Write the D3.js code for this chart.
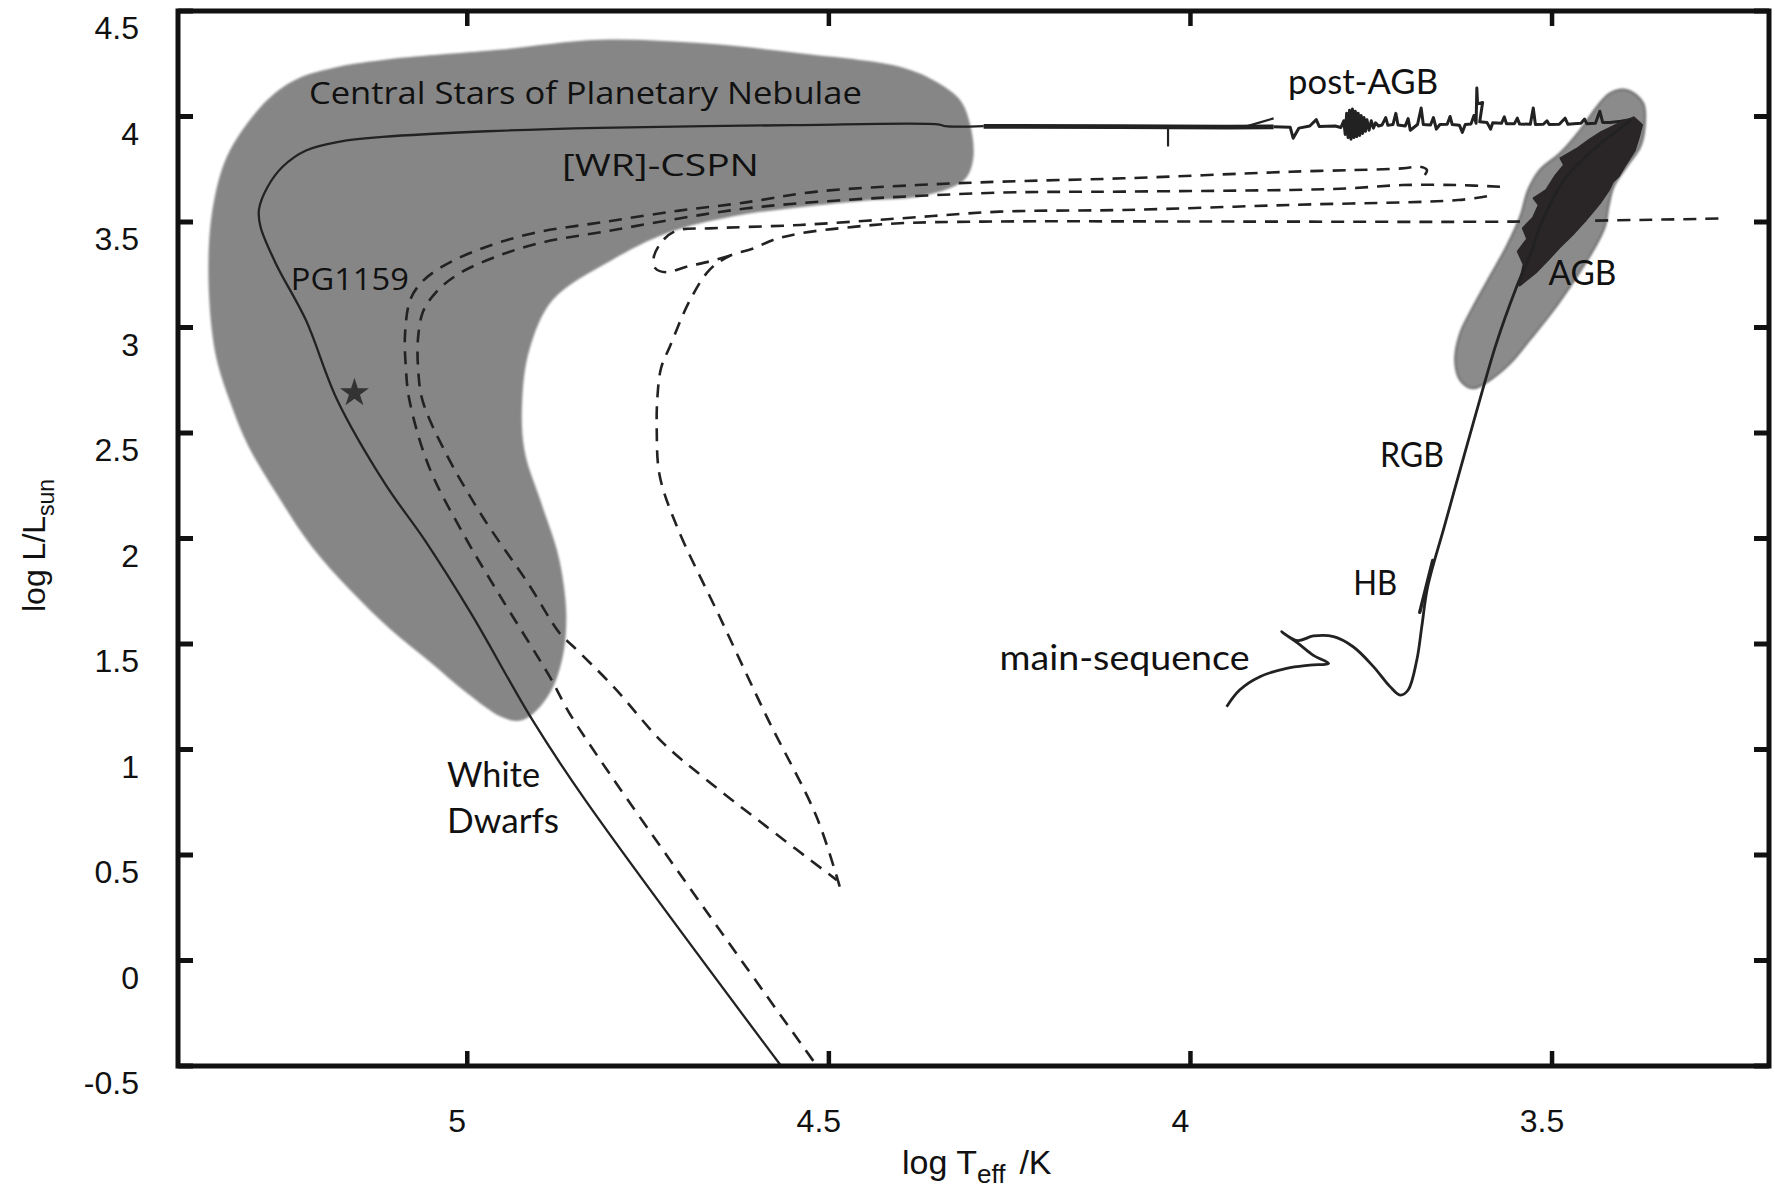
<!DOCTYPE html>
<html>
<head>
<meta charset="utf-8">
<script src="https://cdn.jsdelivr.net/npm/d3@7"></script>
<style>
  body { margin: 0; background: #fff; }
  svg { display: block; }
</style>
</head>
<body>
<svg id="chart" width="1775" height="1189"></svg>
<script>
// Hertzsprung-Russell diagram: log Teff against log L/Lsun for a low-mass star,
// with the central-star-of-planetary-nebula region and born-again tracks.

const xTicks = [5, 4.5, 4, 3.5];
const xTickLabels = ["5", "4.5", "4", "3.5"];
const yTicks = [4.5, 4, 3.5, 3, 2.5, 2, 1.5, 1, 0.5, 0, -0.5];
const yTickLabels = ["4.5", "4", "3.5", "3", "2.5", "2", "1.5", "1", "0.5", "0", "-0.5"];

// Outline of the CSPN region [logT, logL]
const cspnRegion = [
  [5.276,4.080],[5.236,4.177],[5.186,4.230],[5.117,4.268],[4.958,4.316],[4.817,4.364],
  [4.679,4.348],[4.540,4.300],[4.402,4.236],[4.356,4.173],[4.319,4.080],[4.305,3.967],
  [4.300,3.812],[4.309,3.715],[4.328,3.667],[4.378,3.619],[4.447,3.602],[4.539,3.570],
  [4.632,3.527],[4.724,3.447],[4.801,3.318],[4.882,3.130],[4.914,2.894],[4.924,2.658],
  [4.921,2.420],[4.899,2.182],[4.876,1.945],[4.867,1.789],[4.863,1.628],[4.867,1.457],
  [4.881,1.298],[4.899,1.204],[4.918,1.148],[4.932,1.135],[4.954,1.156],[5.001,1.269],
  [5.051,1.414],[5.106,1.569],[5.161,1.752],[5.216,1.966],[5.263,2.208],[5.302,2.433],
  [5.328,2.648],[5.349,2.889],[5.358,3.288],[5.350,3.604],[5.328,3.841]
];

// Outline of the AGB region
const agbRegion = [
  [3.397,4.126],[3.374,4.063],[3.372,3.952],[3.378,3.857],[3.397,3.762],[3.415,3.667],
  [3.422,3.573],[3.427,3.478],[3.443,3.367],[3.466,3.241],[3.498,3.083],[3.531,2.941],
  [3.558,2.830],[3.586,2.751],[3.609,2.712],[3.627,2.751],[3.634,2.846],[3.627,2.973],
  [3.609,3.099],[3.586,3.241],[3.563,3.383],[3.544,3.525],[3.533,3.652],[3.517,3.746],
  [3.489,3.826],[3.461,3.936],[3.438,4.046],[3.420,4.110]
];

// Dense thermal-pulse band on the AGB (outline)
const agbPulses = [
  [3.545,3.200],[3.539,3.300],[3.547,3.360],[3.534,3.420],[3.540,3.470],[3.526,3.520],
  [3.518,3.580],[3.525,3.612],[3.508,3.650],[3.496,3.715],[3.483,3.770],[3.488,3.802],
  [3.466,3.845],[3.448,3.890],[3.432,3.925],[3.410,3.962],[3.387,3.995],
  [3.376,3.960],[3.380,3.905],[3.386,3.840],[3.398,3.775],[3.408,3.718],[3.416,3.692],
  [3.422,3.650],[3.434,3.590],[3.446,3.540],[3.456,3.500],[3.472,3.440],[3.490,3.380],
  [3.506,3.320],[3.523,3.260]
];

// Main sequence -> RGB -> AGB tip
const rgbTrack = [
  [3.950,1.203],[3.932,1.282],[3.904,1.345],[3.867,1.385],[3.835,1.400],[3.809,1.408],
  [3.830,1.446],[3.852,1.505],[3.874,1.558],[3.852,1.516],[3.830,1.538],[3.802,1.535],
  [3.775,1.487],[3.747,1.393],[3.724,1.298],[3.710,1.258],[3.699,1.282],[3.687,1.424],
  [3.680,1.585],[3.672,1.771],[3.649,2.056],[3.622,2.388],[3.600,2.656],[3.577,2.925],
  [3.549,3.193],[3.526,3.383],[3.517,3.477],[3.480,3.715],[3.438,3.857],[3.397,3.967],
  [3.391,3.983]
];

// Horizontal branch
const hbTrack = [[3.683,1.650],[3.665,1.896]];

// Post-AGB crossing with its pulse noise (from the hot side to the AGB tip)
const postAgbTrack = [
  [3.885,3.951],[3.862,3.949],[3.858,3.897],[3.850,3.945],[3.835,3.955],[3.826,3.985],
  [3.822,3.953],[3.800,3.955],[3.792,3.948],
  [3.788,3.980],[3.786,3.915],[3.784,4.015],[3.782,3.900],[3.780,4.030],[3.778,3.892],
  [3.776,4.035],[3.774,3.900],[3.772,4.025],[3.770,3.905],[3.768,4.015],[3.766,3.910],
  [3.764,4.005],[3.762,3.920],[3.760,3.995],[3.758,3.930],[3.756,3.985],[3.753,3.935],
  [3.750,3.980],[3.747,3.945],[3.744,3.970],[3.740,3.955],
  [3.735,3.960],[3.730,3.995],[3.727,3.958],[3.720,3.962],[3.716,4.015],[3.713,3.960],
  [3.703,3.955],[3.699,3.990],[3.696,3.935],[3.686,3.962],[3.681,4.040],[3.678,3.962],
  [3.668,3.960],[3.664,3.995],[3.660,3.940],[3.655,3.962],[3.645,3.963],[3.641,4.000],
  [3.638,3.962],[3.628,3.958],[3.624,3.925],[3.620,3.962],[3.612,3.965],[3.608,4.005],
  [3.605,3.968],[3.604,4.135],[3.603,4.060],[3.596,4.066],[3.600,3.975],[3.590,3.972],
  [3.585,3.940],[3.582,3.970],[3.570,3.968],[3.566,3.998],[3.563,3.966],[3.552,3.966],
  [3.548,3.992],[3.545,3.965],[3.530,3.963],[3.526,4.040],[3.523,3.962],[3.512,3.963],
  [3.507,3.980],[3.504,3.962],[3.490,3.963],[3.482,3.992],[3.478,3.963],[3.470,3.966],
  [3.460,3.968],[3.455,3.988],[3.452,3.966],[3.440,3.968],[3.434,4.025],[3.430,3.972],
  [3.420,3.972],[3.405,3.978],[3.392,3.985]
];

// Thick part of the post-AGB line and the small marks beside it
const postAgbThick = [[4.286,3.953],[4.100,3.952],[3.950,3.950],[3.885,3.951]];
const postAgbSpur = [[3.925,3.951],[3.885,3.991]];
const postAgbDip = [[4.031,3.955],[4.031,3.858]];

// CSPN -> white dwarf cooling track
const coolingTrack = [
  [4.566,-0.500],[4.837,0.761],[4.910,1.140],[4.995,1.646],[5.059,1.993],[5.114,2.261],
  [5.180,2.658],[5.223,3.034],[5.265,3.305],[5.286,3.479],[5.288,3.560],[5.276,3.667],
  [5.255,3.763],[5.223,3.839],[5.176,3.881],[5.117,3.903],[4.973,3.930],[4.817,3.946],
  [4.550,3.959],[4.347,3.962],[4.339,3.954],[4.286,3.954]
];

// Dashed tracks
const dashedTrackA = [
  [3.676,3.723],[3.673,3.746],[3.683,3.762],[3.707,3.754],[3.862,3.738],[4.093,3.707],
  [4.264,3.691],[4.378,3.675],[4.517,3.644],[4.623,3.589],[4.707,3.554],[4.809,3.501],
  [4.909,3.447],[4.982,3.372],[5.036,3.286],[5.064,3.211],[5.079,3.130],[5.086,2.972],
  [5.085,2.814],[5.080,2.656],[5.053,2.340],[5.006,2.025],[4.957,1.741],[4.886,1.345],
  [4.853,1.140],[4.516,-0.502]
];
const dashedTrackB = [
  [3.572,3.667],[3.630,3.675],[3.707,3.675],[3.784,3.659],[3.862,3.652],[4.093,3.644],
  [4.264,3.639],[4.488,3.602],[4.613,3.565],[4.707,3.517],[4.804,3.458],[4.895,3.404],
  [4.957,3.340],[5.012,3.254],[5.043,3.168],[5.061,3.077],[5.068,2.953],[5.068,2.808],
  [5.062,2.656],[5.032,2.420],[4.979,2.104],[4.916,1.788],[4.872,1.550],[4.853,1.487],
  [4.798,1.298],[4.729,1.030],[4.669,0.856],[4.586,0.634],[4.489,0.381]
];
const dashedTrackC = [
  [4.485,0.350],[4.517,0.681],[4.586,1.156],[4.651,1.629],[4.710,2.056],[4.734,2.299],
  [4.738,2.513],[4.737,2.674],[4.732,2.808],[4.720,2.909],[4.692,3.130],[4.665,3.273],
  [4.637,3.340],[4.604,3.375],[4.577,3.415],[4.540,3.446],[4.466,3.477],[4.402,3.494],
  [4.287,3.502],[3.924,3.502],[3.553,3.502],[3.259,3.517]
];
const dashedTrackD = [
  [3.590,3.622],[3.630,3.604],[3.862,3.581],[4.093,3.557],[4.264,3.549],[4.402,3.517],
  [4.540,3.486],[4.665,3.470],[4.710,3.460],[4.729,3.415],[4.742,3.335],[4.740,3.281],
  [4.724,3.262],[4.697,3.288],[4.665,3.313],[4.637,3.340]
];

// Observed PG1159-type star
const starPoint = [[5.156, 2.690]];

// ---------------------------------------------------------------------------
const plot = { left: 178, right: 1769, top: 11, bottom: 1066 };
const x = d3.scaleLinear().domain([5.4, 3.2]).range([plot.left, plot.right]);
const y = d3.scaleLinear().domain([-0.5, 4.5]).range([plot.bottom, plot.top]);

const svg = d3.select("#chart");
const ink = "#222";
const defs = svg.append("defs");
defs.append("clipPath").attr("id", "plotClip")
  .append("rect")
  .attr("x", plot.left).attr("y", plot.top)
  .attr("width", plot.right - plot.left).attr("height", plot.bottom - plot.top);
defs.append("filter").attr("id", "soft")
  .attr("x", "-5%").attr("y", "-5%").attr("width", "110%").attr("height", "110%")
  .append("feGaussianBlur").attr("stdDeviation", 1.2);

const straight = d3.line().x(d => x(d[0])).y(d => y(d[1]));
const polygon = d3.line().x(d => x(d[0])).y(d => y(d[1])).curve(d3.curveLinearClosed);
const smooth = d3.line().x(d => x(d[0])).y(d => y(d[1])).curve(d3.curveCatmullRom.alpha(0.5));
const closed = d3.line().x(d => x(d[0])).y(d => y(d[1])).curve(d3.curveCatmullRomClosed.alpha(0.5));

const g = svg.append("g").attr("clip-path", "url(#plotClip)");

// shaded regions
g.append("path").attr("d", closed(cspnRegion))
  .attr("fill", "#868686").attr("filter", "url(#soft)");
g.append("path").attr("d", closed(agbRegion))
  .attr("fill", "#8b8b8b").attr("stroke", "#6c6c6c").attr("stroke-width", 2)
  .attr("filter", "url(#soft)");

// dashed tracks
[dashedTrackA, dashedTrackB, dashedTrackC, dashedTrackD].forEach(t => {
  g.append("path").attr("d", smooth(t))
    .attr("fill", "none").attr("stroke", ink).attr("stroke-width", 2.6)
    .attr("stroke-dasharray", "13 9");
});

// solid tracks
g.append("path").attr("d", smooth(coolingTrack))
  .attr("fill", "none").attr("stroke", ink).attr("stroke-width", 2.3);
g.append("path").attr("d", straight(postAgbThick))
  .attr("fill", "none").attr("stroke", ink).attr("stroke-width", 4.8);
g.append("path").attr("d", straight(postAgbSpur))
  .attr("fill", "none").attr("stroke", ink).attr("stroke-width", 2.2);
g.append("path").attr("d", straight(postAgbDip))
  .attr("fill", "none").attr("stroke", ink).attr("stroke-width", 2.2);
g.append("path").attr("d", straight(postAgbTrack))
  .attr("fill", "none").attr("stroke", ink).attr("stroke-width", 3)
  .attr("stroke-linejoin", "round");
g.append("path").attr("d", polygon(agbPulses))
  .attr("fill", "#2a2627").attr("stroke", "#2a2627").attr("stroke-width", 2.5)
  .attr("stroke-linejoin", "round");
g.append("path").attr("d", smooth(rgbTrack))
  .attr("fill", "none").attr("stroke", ink).attr("stroke-width", 2.8)
  .attr("stroke-linejoin", "round");
g.append("path").attr("d", straight(hbTrack))
  .attr("fill", "none").attr("stroke", ink).attr("stroke-width", 3.4)
  .attr("stroke-linecap", "round");

// star marker
g.selectAll(".star").data(starPoint).join("path")
  .attr("class", "star")
  .attr("transform", d => `translate(${x(d[0])},${y(d[1])})`)
  .attr("d", d3.symbol(d3.symbolStar).size(260))
  .attr("fill", "#333");

// frame
svg.append("rect")
  .attr("x", plot.left).attr("y", plot.top)
  .attr("width", plot.right - plot.left).attr("height", plot.bottom - plot.top)
  .attr("fill", "none").attr("stroke", "#111").attr("stroke-width", 5);

// inward ticks on all four sides
const tickLen = 15;
xTicks.forEach(v => {
  svg.append("line").attr("x1", x(v)).attr("x2", x(v))
    .attr("y1", plot.bottom).attr("y2", plot.bottom - tickLen)
    .attr("stroke", "#111").attr("stroke-width", 4.5);
  svg.append("line").attr("x1", x(v)).attr("x2", x(v))
    .attr("y1", plot.top).attr("y2", plot.top + tickLen)
    .attr("stroke", "#111").attr("stroke-width", 4.5);
});
yTicks.forEach(v => {
  svg.append("line").attr("y1", y(v)).attr("y2", y(v))
    .attr("x1", plot.left).attr("x2", plot.left + tickLen)
    .attr("stroke", "#111").attr("stroke-width", 5);
  svg.append("line").attr("y1", y(v)).attr("y2", y(v))
    .attr("x1", plot.right).attr("x2", plot.right - tickLen)
    .attr("stroke", "#111").attr("stroke-width", 5);
});

// tick labels
const axisFont = "'Liberation Sans', Arial, Helvetica, sans-serif";
svg.append("g").selectAll("text").data(xTicks).join("text")
  .attr("x", d => x(d) - 10).attr("y", plot.bottom + 66)
  .attr("text-anchor", "middle")
  .attr("font-family", axisFont).attr("font-size", 32).attr("fill", "#111")
  .text((d, i) => xTickLabels[i]);
svg.append("g").selectAll("text").data(yTicks).join("text")
  .attr("x", plot.left - 39).attr("y", d => y(d) + 28)
  .attr("text-anchor", "end")
  .attr("font-family", axisFont).attr("font-size", 32).attr("fill", "#111")
  .text((d, i) => yTickLabels[i]);

// axis titles
const xTitle = svg.append("text")
  .attr("x", 902).attr("y", 1174)
  .attr("font-family", axisFont).attr("font-size", 34).attr("fill", "#111");
xTitle.append("tspan").text("log T");
xTitle.append("tspan").attr("font-size", 26).attr("dy", 9).text("eff");
xTitle.append("tspan").attr("dy", -9).attr("dx", 14).text("/K");

const yTitle = svg.append("text")
  .attr("transform", "translate(45,612) rotate(-90)")
  .attr("font-family", axisFont).attr("font-size", 32).attr("fill", "#111");
yTitle.append("tspan").text("log L/L");
yTitle.append("tspan").attr("font-size", 23).attr("dy", 9).text("sun");

// region and phase labels, anchored in diagram coordinates
const roundFont = "'Open Sans', 'Noto Sans', sans-serif";
const phaseFont = "Lato, 'Open Sans', sans-serif";
function label(text, t, l, font, size, len) {
  svg.append("text")
    .attr("x", x(t)).attr("y", y(l))
    .attr("font-family", font).attr("font-size", size).attr("fill", "#111")
    .attr("textLength", len).attr("lengthAdjust", "spacingAndGlyphs")
    .text(text);
}
label("Central Stars of Planetary Nebulae", 5.219, 4.059, roundFont, 31, 553);
label("[WR]-CSPN", 4.869, 3.718, roundFont, 31, 197);
label("PG1159", 5.244, 3.178, roundFont, 31, 118);
label("White", 5.028, 0.822, phaseFont, 35, 93);
label("Dwarfs", 5.028, 0.604, phaseFont, 35, 112);
label("post-AGB", 3.865, 4.109, phaseFont, 35, 150);
label("AGB", 3.505, 3.201, phaseFont, 35, 68);
label("RGB", 3.738, 2.340, phaseFont, 35, 64);
label("HB", 3.775, 1.732, phaseFont, 35, 44);
label("main-sequence", 4.264, 1.377, phaseFont, 35, 250);
</script>
</body>
</html>
